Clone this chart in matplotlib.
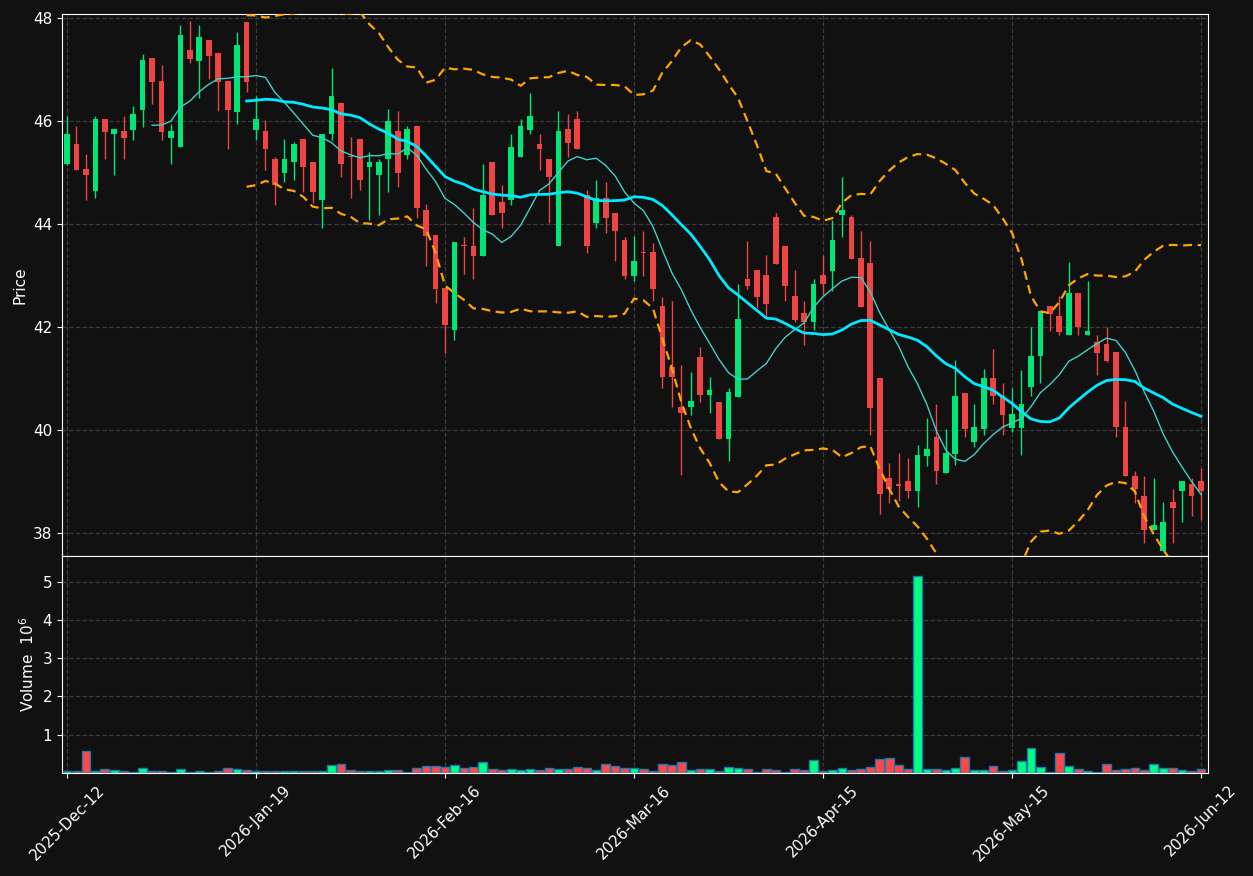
import numpy as np
import pandas as pd
from matplotlib import pyplot as plt

# OHLC, one row per trading session
opens = [45.16, 45.56, 45.06, 44.65, 46.04, 45.74, 45.81, 45.83, 46.22, 47.23,
         46.78, 45.68, 45.49, 47.38, 47.16, 47.57, 47.32, 46.78, 46.18, 47.93,
         45.83, 45.81, 45.27, 45.00, 45.20, 45.66, 45.21, 44.46, 45.74, 46.36,
         45.32, 45.66, 45.10, 44.95, 45.26, 45.81, 45.35, 45.91, 44.28, 43.78,
         42.75, 41.95, 43.58, 43.58, 43.38, 45.21, 44.42, 44.46, 45.30, 45.83,
         45.56, 45.27, 43.57, 45.85, 46.04, 44.57, 44.02, 44.51, 44.22, 43.68,
         42.99, 43.46, 43.45, 42.40, 41.22, 40.44, 40.44, 41.41, 40.67, 40.54,
         39.83, 40.63, 42.94, 43.10, 43.01, 44.13, 43.58, 42.60, 42.27, 42.10,
         43.01, 43.09, 44.18, 44.13, 43.33, 43.24, 41.01, 39.07, 38.95, 39.01,
         38.82, 39.50, 39.87, 39.16, 39.54, 40.72, 39.76, 40.01, 41.01, 40.66,
         40.04, 40.04, 40.83, 41.44, 42.40, 42.21, 41.85, 42.65, 41.85, 41.70,
         41.67, 41.51, 40.06, 39.10, 38.72, 38.05, 37.64, 38.60, 38.82, 38.95,
         39.01]
highs = [46.10, 45.90, 45.36, 46.10, 46.04, 45.85, 46.10, 46.29, 47.31, 47.23,
         47.08, 45.94, 47.86, 47.95, 47.86, 47.57, 47.32, 46.78, 47.73, 47.93,
         46.49, 46.03, 45.31, 45.65, 45.60, 45.66, 45.21, 45.75, 47.03, 46.38,
         45.69, 45.66, 45.40, 45.26, 46.23, 46.19, 45.91, 45.91, 44.38, 43.78,
         42.75, 43.65, 43.74, 44.31, 45.17, 45.21, 44.76, 45.74, 46.04, 46.54,
         45.74, 45.27, 46.19, 46.13, 46.19, 44.66, 44.85, 44.82, 44.22, 43.74,
         43.77, 43.87, 43.64, 42.59, 42.50, 41.27, 41.12, 41.61, 41.02, 40.54,
         40.82, 42.84, 43.67, 43.10, 43.39, 44.22, 43.58, 43.10, 42.50, 42.94,
         43.39, 44.07, 44.92, 44.17, 43.87, 43.67, 41.01, 39.36, 39.56, 39.45,
         39.71, 40.24, 40.50, 40.01, 41.36, 40.72, 40.50, 41.19, 41.57, 40.91,
         40.81, 41.16, 42.00, 42.31, 42.40, 42.60, 43.26, 42.65, 42.89, 41.85,
         42.00, 41.51, 40.56, 39.20, 39.10, 39.07, 38.59, 38.85, 39.01, 39.07,
         39.25]
lows = [45.15, 45.04, 44.47, 44.50, 45.26, 44.95, 45.26, 45.64, 45.89, 46.34,
        45.64, 45.16, 45.49, 47.12, 46.44, 46.82, 46.19, 45.45, 45.94, 46.57,
        45.64, 45.04, 44.37, 44.82, 44.85, 44.62, 44.40, 43.92, 45.64, 44.91,
        44.50, 44.66, 44.07, 44.18, 44.62, 44.72, 45.26, 44.11, 43.19, 42.46,
        41.50, 41.75, 43.03, 42.93, 43.38, 44.18, 43.92, 44.37, 45.30, 45.74,
        45.04, 44.02, 43.57, 45.30, 45.45, 43.43, 43.92, 43.82, 43.28, 42.93,
        42.89, 42.99, 42.50, 40.82, 40.44, 39.13, 40.29, 40.54, 40.32, 39.83,
        39.39, 40.63, 42.74, 42.36, 42.19, 43.22, 42.50, 42.09, 41.65, 41.95,
        42.63, 42.69, 43.74, 43.32, 42.39, 39.90, 38.37, 38.57, 38.62, 38.68,
        38.50, 39.30, 38.94, 39.16, 39.32, 39.86, 39.66, 39.90, 40.50, 39.90,
        39.95, 39.51, 40.66, 40.91, 41.92, 41.85, 41.85, 41.85, 41.85, 41.07,
        41.31, 39.86, 39.10, 38.57, 37.81, 38.05, 37.64, 37.81, 38.22, 38.32,
        38.25]
closes = [45.75, 45.05, 44.95, 46.04, 45.79, 45.85, 45.68, 46.14, 47.18, 46.76,
          45.79, 45.81, 47.67, 47.21, 47.63, 47.27, 46.76, 46.22, 47.48, 46.76,
          46.04, 45.45, 44.75, 45.27, 45.56, 45.10, 44.62, 45.75, 46.49, 45.16,
          45.30, 44.85, 45.21, 45.21, 46.00, 45.00, 45.85, 44.31, 43.77, 42.74,
          42.04, 43.65, 43.57, 43.38, 44.57, 44.18, 44.21, 45.50, 45.91, 46.10,
          45.45, 44.91, 45.81, 45.58, 45.45, 43.57, 44.50, 44.11, 43.86, 42.99,
          43.29, 43.43, 42.74, 41.02, 41.02, 40.32, 40.57, 40.67, 40.78, 39.83,
          40.74, 42.15, 42.79, 42.59, 42.45, 43.22, 42.79, 42.14, 42.10, 42.84,
          42.83, 43.68, 44.28, 43.32, 42.39, 40.43, 38.75, 38.85, 38.91, 38.82,
          39.51, 39.62, 39.20, 39.56, 40.66, 40.01, 40.05, 41.01, 40.65, 40.29,
          40.31, 40.50, 41.44, 42.31, 42.25, 41.91, 42.65, 42.00, 41.92, 41.50,
          41.34, 40.05, 39.10, 38.85, 38.05, 38.16, 38.22, 38.49, 39.01, 38.72,
          38.82]
# volume in millions
volumes = [0.04, 0.04, 0.57, 0.04, 0.10, 0.07, 0.04, 0.02, 0.12, 0.04,
           0.04, 0.02, 0.10, 0.02, 0.04, 0.02, 0.04, 0.12, 0.10, 0.07,
           0.04, 0.04, 0.04, 0.04, 0.04, 0.04, 0.04, 0.04, 0.20, 0.23,
           0.07, 0.04, 0.04, 0.04, 0.07, 0.07, 0.02, 0.12, 0.18, 0.18,
           0.15, 0.20, 0.12, 0.15, 0.28, 0.10, 0.07, 0.10, 0.07, 0.10,
           0.07, 0.12, 0.10, 0.10, 0.15, 0.12, 0.07, 0.23, 0.18, 0.12,
           0.12, 0.10, 0.04, 0.23, 0.20, 0.28, 0.07, 0.10, 0.10, 0.04,
           0.15, 0.12, 0.10, 0.02, 0.10, 0.07, 0.02, 0.10, 0.07, 0.33,
           0.04, 0.07, 0.12, 0.07, 0.10, 0.15, 0.36, 0.39, 0.20, 0.10,
           5.15, 0.10, 0.10, 0.07, 0.12, 0.41, 0.07, 0.07, 0.18, 0.04,
           0.07, 0.31, 0.65, 0.15, 0.02, 0.52, 0.18, 0.10, 0.04, 0.02,
           0.23, 0.07, 0.10, 0.12, 0.07, 0.23, 0.12, 0.12, 0.07, 0.04,
           0.10]

tick_pos = [0, 20, 40, 60, 80, 100, 120]
tick_labels = ["2025-Dec-12", "2026-Jan-19", "2026-Feb-16", "2026-Mar-16",
               "2026-Apr-15", "2026-May-15", "2026-Jun-12"]

BG = "#111111"
UP, DOWN = "#00e676", "#ef4444"
VUP, VDOWN = "#00ff80", "#ff4848"

df = pd.DataFrame({"Open": opens, "High": highs, "Low": lows,
                   "Close": closes, "Volume": volumes})
idx = np.arange(len(df))
ma10 = df["Close"].rolling(10).mean()
ma20 = df["Close"].rolling(20).mean()
sd20 = df["Close"].rolling(20).std()
bb_up = ma20 + 2 * sd20
bb_dn = ma20 - 2 * sd20

up = df["Close"] >= df["Open"]

fig = plt.figure(figsize=(12.53, 8.76), dpi=100, facecolor=BG)
ax = fig.add_axes([0.0495, 0.3653, 0.9146, 0.6187])
axv = fig.add_axes([0.0495, 0.1176, 0.9146, 0.2477], sharex=ax)

for a in (ax, axv):
    a.set_facecolor(BG)
    for s in a.spines.values():
        s.set_color("white")
    a.tick_params(colors="white", labelsize=11)
    a.grid(True, linestyle="--", color="#3a3a3a", linewidth=0.9)
    a.set_axisbelow(True)

# candles
wick_col = [UP if u else DOWN for u in up]
ax.vlines(idx, df["Low"], df["High"], colors=wick_col, linewidth=1, zorder=2)
body_lo = np.minimum(df["Open"], df["Close"])
body_h = np.maximum(np.abs(df["Close"] - df["Open"]), 0.02)
ax.bar(idx, body_h, bottom=body_lo, width=0.6, color=wick_col, zorder=3)

ax.plot(idx, ma10, color="#40d0c8", linewidth=1, zorder=4)
ax.plot(idx, ma20, color="#00eaff", linewidth=2, zorder=4)
ax.plot(idx, bb_up, color="#ffa500", linewidth=1.6, linestyle=(0, (4, 2.5)), zorder=4)
ax.plot(idx, bb_dn, color="#ffa500", linewidth=1.6, linestyle=(0, (4, 2.5)), zorder=4)

ax.set_ylim(37.55, 48.08)
ax.set_yticks([38, 40, 42, 44, 46, 48])
ax.set_ylabel("Price", color="white", fontsize=11)
ax.tick_params(axis="x", labelbottom=False, length=0)

# volume
vol_col = [VUP if u else VDOWN for u in up]
axv.bar(idx, df["Volume"], width=0.92, color=vol_col, edgecolor="#1f77b4",
        linewidth=1.0, zorder=3)
axv.set_ylim(0, 5.67)
axv.set_yticks([1, 2, 3, 4, 5])
axv.set_ylabel("Volume  $10^6$", color="white", fontsize=11)

axv.set_xlim(-0.53, 120.74)
axv.set_xticks(tick_pos)
axv.set_xticklabels(tick_labels, rotation=45, ha="center")

plt.savefig("out.png", dpi=100, facecolor=BG)
